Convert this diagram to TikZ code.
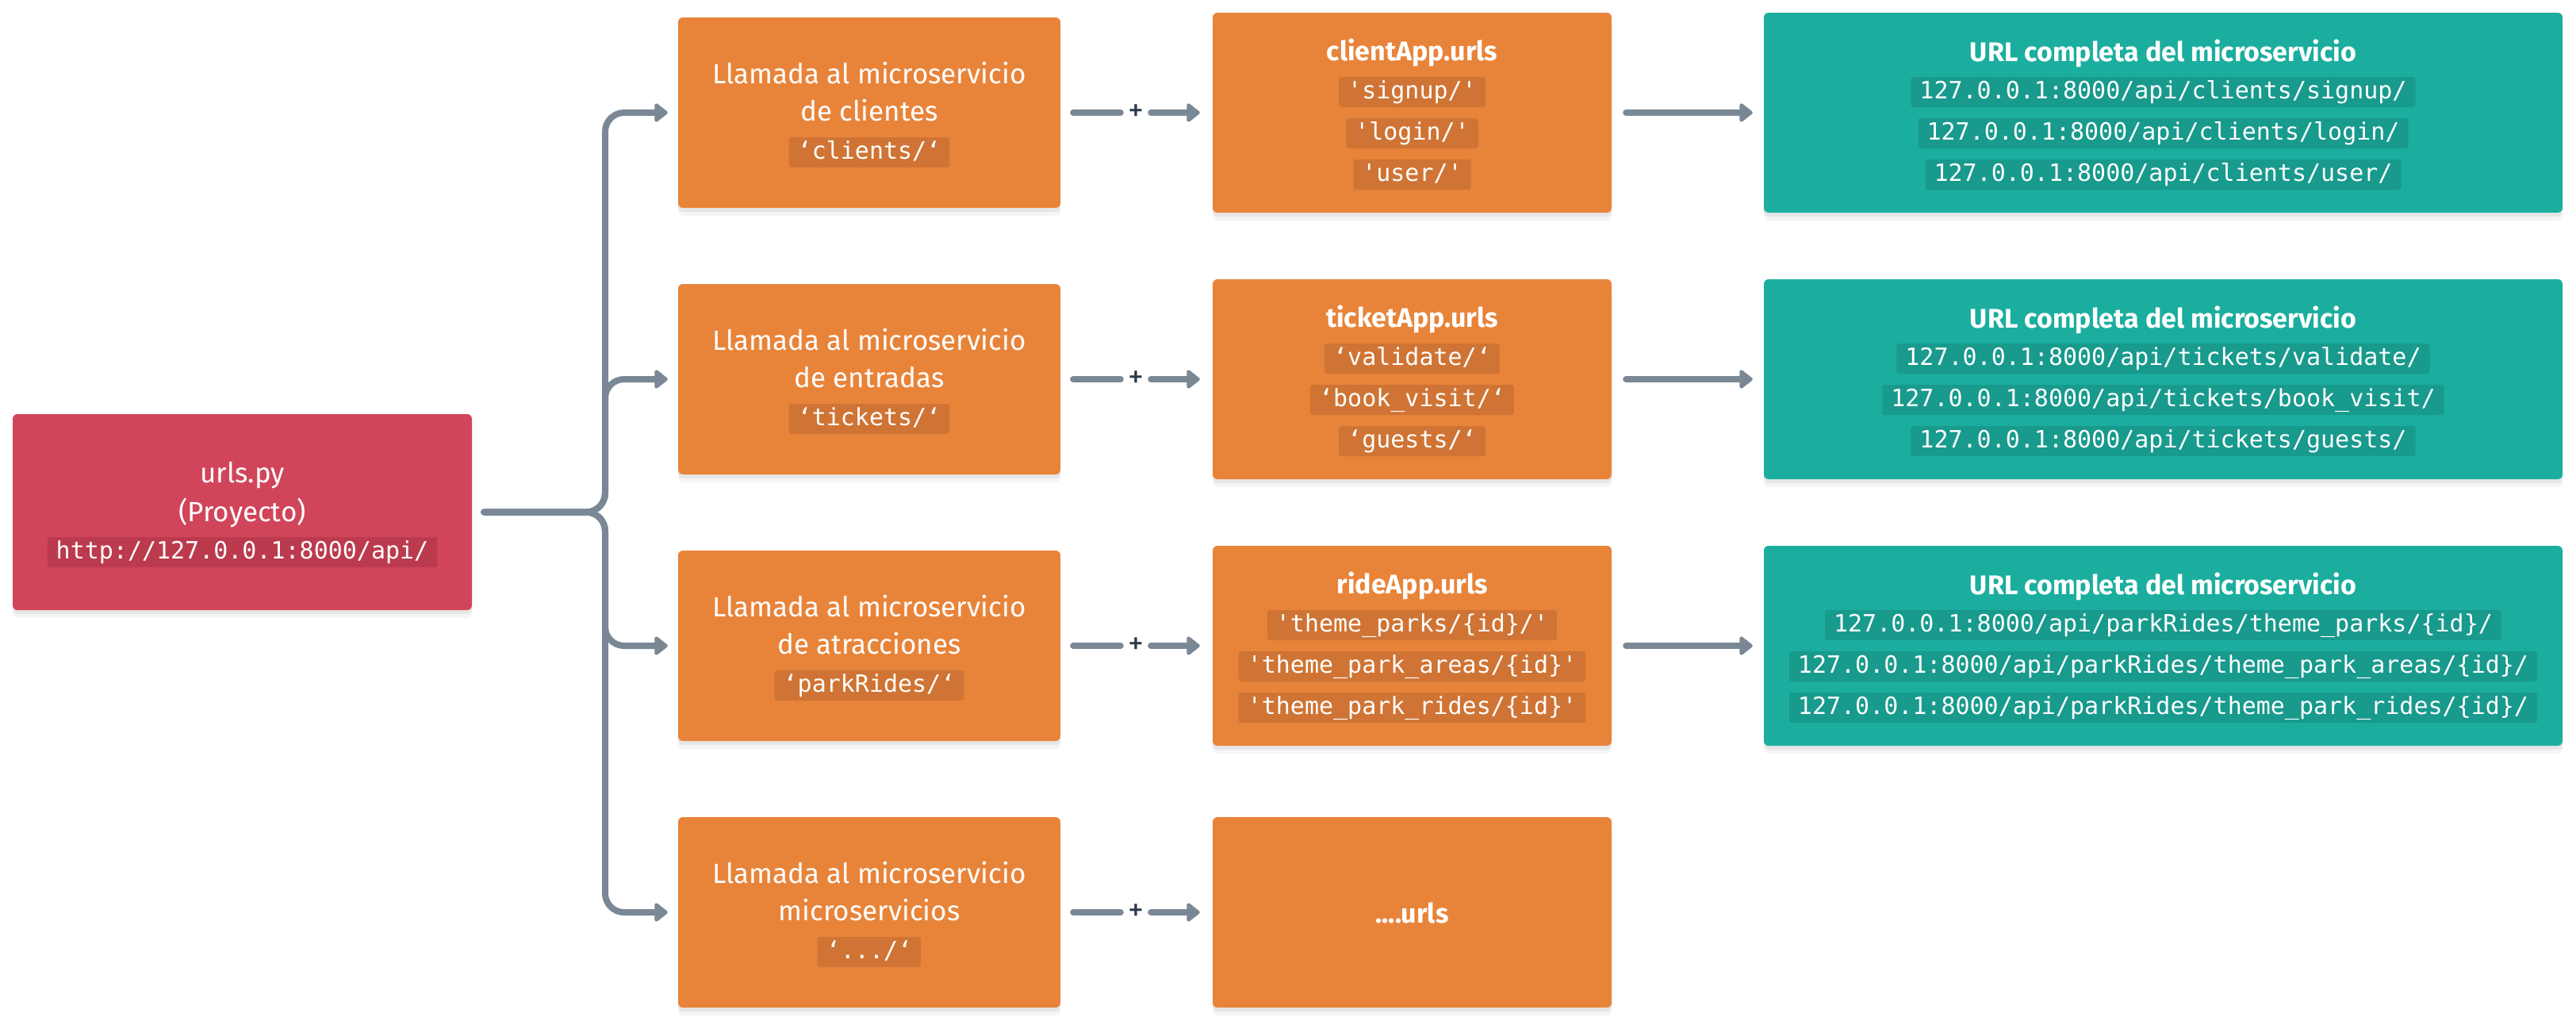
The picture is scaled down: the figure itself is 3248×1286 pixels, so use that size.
\documentclass[tikz,border=0pt]{standalone}
\usepackage{fontspec}
\setmainfont{Fira Sans}
\setmonofont{DejaVu Sans Mono}
\usetikzlibrary{arrows.meta,shadows}
\definecolor{redbox}{HTML}{D1455A}
\definecolor{redcode}{HTML}{BC3A4E}
\definecolor{orbox}{HTML}{E8843A}
\definecolor{orcode}{HTML}{CF7434}
\definecolor{tlbox}{HTML}{1BAE9F}
\definecolor{tlcode}{HTML}{189A8D}
\definecolor{conn}{HTML}{7A8896}
\definecolor{plusc}{HTML}{2D3B48}
\tikzset{
  boxbase/.style={rounded corners=6pt, inner sep=0pt, draw=none,
    drop shadow={shadow xshift=0pt, shadow yshift=-5pt, opacity=0.06, fill=black},
    drop shadow={shadow xshift=0pt, shadow yshift=-10pt, opacity=0.04, fill=black}},
  redb/.style={boxbase, fill=redbox},
  orb/.style={boxbase, fill=orbox},
  tlb/.style={boxbase, fill=tlbox},
  txt/.style={text=white, font=\fontsize{35}{42}\selectfont, anchor=base, inner sep=0pt},
  ttl/.style={text=white, font=\fontsize{34}{40}\selectfont\bfseries, anchor=base, inner sep=0pt},
  codebg/.style={text=white, font=\fontsize{30}{36}\selectfont\ttfamily, rounded corners=3pt,
    inner xsep=11pt, inner ysep=3pt, text height=24pt, text depth=8pt, anchor=center},
  rc/.style={codebg, fill=redcode},
  oc/.style={codebg, fill=orcode},
  tc/.style={codebg, fill=tlcode},
  link/.style={draw=conn, line width=8pt, line cap=round, rounded corners=24pt},
  arr/.style={link, -{Triangle[length=18pt, width=27pt, round]}},
  plusn/.style={text=plusc, font=\fontsize{40}{44}\selectfont, inner sep=0pt, minimum width=38pt}
}
\begin{document}
\begin{tikzpicture}[x=1pt,y=-1pt]
\useasboundingbox (0,0) rectangle (3248,1286);
\fill[white] (0,0) rectangle (3248,1286);

% source
\node[redb, minimum width=579pt, minimum height=247pt] (src) at (305.5,645.5) {};
\node[txt] (srcA) at (305.5,608) {urls.py};
\node[txt] (srcB) at (305.5,657) {(Proyecto)};
\node[rc] (srcC) at (305.5,696) {http://127.0.0.1:8000/api/};

% column 2
\node[orb, minimum width=482pt, minimum height=240pt] (b1) at (1096,142) {};
\node[orb, minimum width=482pt, minimum height=240pt] (b2) at (1096,478) {};
\node[orb, minimum width=482pt, minimum height=240pt] (b3) at (1096,814) {};
\node[orb, minimum width=482pt, minimum height=240pt] (b4) at (1096,1150) {};

\node[txt] (b1a) at (1096,105) {Llamada al microservicio};
\node[txt] (b1b) at (1096,152) {de clientes};
\node[oc] (b1c) at (1096,192) {‘clients/‘};

\node[txt] (b2a) at (1096,441) {Llamada al microservicio};
\node[txt] (b2b) at (1096,488) {de entradas};
\node[oc] (b2c) at (1096,528) {‘tickets/‘};

\node[txt] (b3a) at (1096,777) {Llamada al microservicio};
\node[txt] (b3b) at (1096,824) {de atracciones};
\node[oc] (b3c) at (1096,864) {‘parkRides/‘};

\node[txt] (b4a) at (1096,1113) {Llamada al microservicio};
\node[txt] (b4b) at (1096,1160) {microservicios};
\node[oc] (b4c) at (1096,1200) {‘.../‘};

% column 3
\node[orb, minimum width=503pt, minimum height=252pt] (c1) at (1780.5,142) {};
\node[orb, minimum width=503pt, minimum height=252pt] (c2) at (1780.5,478) {};
\node[orb, minimum width=503pt, minimum height=252pt] (c3) at (1780.5,814) {};
\node[orb, minimum width=503pt, minimum height=240pt] (c4) at (1780.5,1150) {};

\node[ttl] (c1t) at (1780.5,76) {clientApp.urls};
\node[oc] (c1a) at (1780.5,116) {'signup/'};
\node[oc] (c1b) at (1780.5,168) {'login/'};
\node[oc] (c1c) at (1780.5,220) {'user/'};

\node[ttl] (c2t) at (1780.5,412) {ticketApp.urls};
\node[oc] (c2a) at (1780.5,452) {‘validate/‘};
\node[oc] (c2b) at (1780.5,504) {‘book\_visit/‘};
\node[oc] (c2c) at (1780.5,556) {‘guests/‘};

\node[ttl] (c3t) at (1780.5,748) {rideApp.urls};
\node[oc] (c3a) at (1780.5,788) {'theme\_parks/\{id\}/'};
\node[oc] (c3b) at (1780.5,840) {'theme\_park\_areas/\{id\}'};
\node[oc] (c3c) at (1780.5,892) {'theme\_park\_rides/\{id\}'};

\node[ttl] (c4t) at (1780.5,1163) {....urls};

% column 4
\node[tlb, minimum width=1007pt, minimum height=252pt] (d1) at (2727.5,142) {};
\node[tlb, minimum width=1007pt, minimum height=252pt] (d2) at (2727.5,478) {};
\node[tlb, minimum width=1007pt, minimum height=252pt] (d3) at (2727.5,814) {};

\node[ttl] (d1t) at (2727.5,77) {URL completa del microservicio};
\node[tc] (d1a) at (2727.5,116) {127.0.0.1:8000/api/clients/signup/};
\node[tc] (d1b) at (2727.5,168) {127.0.0.1:8000/api/clients/login/};
\node[tc] (d1c) at (2727.5,220) {127.0.0.1:8000/api/clients/user/};

\node[ttl] (d2t) at (2727.5,413) {URL completa del microservicio};
\node[tc] (d2a) at (2727.5,452) {127.0.0.1:8000/api/tickets/validate/};
\node[tc] (d2b) at (2727.5,504) {127.0.0.1:8000/api/tickets/book\_visit/};
\node[tc] (d2c) at (2727.5,556) {127.0.0.1:8000/api/tickets/guests/};

\node[ttl] (d3t) at (2727.5,749) {URL completa del microservicio};
\node[tc] (d3a) at (2727.5,788) {127.0.0.1:8000/api/parkRides/theme\_parks/\{id\}/};
\node[tc] (d3b) at (2727.5,840) {127.0.0.1:8000/api/parkRides/theme\_park\_areas/\{id\}/};
\node[tc] (d3c) at (2727.5,892) {127.0.0.1:8000/api/parkRides/theme\_park\_rides/\{id\}/};

% brace connectors
\coordinate (jn) at (763,645.5);
\foreach \b in {b1,b2,b3,b4}{
  \draw[arr, shorten <=15pt, shorten >=13pt] (src.east) -- (jn) |- (\b.west);
}

% plus signs
\node[plusn] (p1) at (1432,142) {+};
\node[plusn] (p2) at (1432,478) {+};
\node[plusn] (p3) at (1432,814) {+};
\node[plusn] (p4) at (1432,1150) {+};

\foreach \i in {1,2,3,4}{
  \draw[link, shorten <=16pt] (b\i.east) -- (p\i.west);
  \draw[arr, shorten <=0pt, shorten >=16pt] (p\i.east) -- (c\i.west);
}
\foreach \i in {1,2,3}{
  \draw[arr, shorten <=18pt, shorten >=14pt] (c\i.east) -- (d\i.west);
}
\end{tikzpicture}
\end{document}
